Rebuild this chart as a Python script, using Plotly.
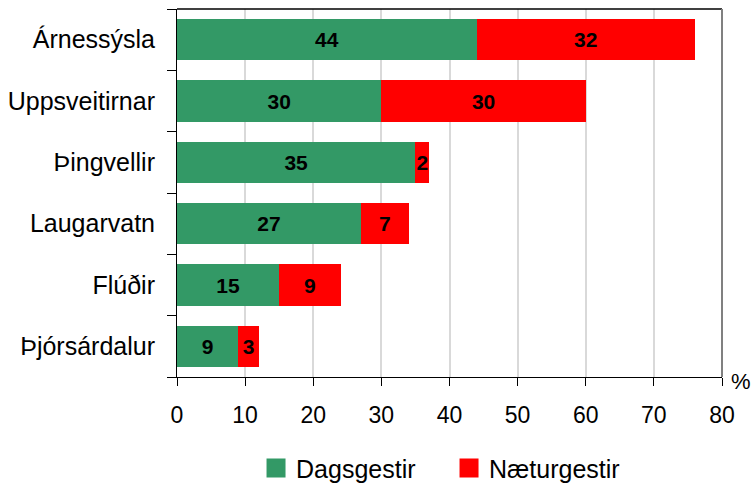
import plotly.graph_objects as go

categories = ["Árnessýsla", "Uppsveitirnar", "Þingvellir", "Laugarvatn", "Flúðir", "Þjórsárdalur"]
dagsgestir = [44, 30, 35, 27, 15, 9]
naeturgestir = [32, 30, 2, 7, 9, 3]
x_ticks = [0, 10, 20, 30, 40, 50, 60, 70, 80]

GREEN = "#339966"
RED = "#FF0000"
FONT = "Liberation Sans, Arial, sans-serif"

fig = go.Figure()
for vals, nm, col in [(dagsgestir, "Dagsgestir", GREEN), (naeturgestir, "Næturgestir", RED)]:
    fig.add_trace(go.Bar(
        y=categories, x=vals, orientation="h", name=nm,
        marker=dict(color=col, line=dict(width=0)),
        text=[str(v) for v in vals], textposition="inside",
        insidetextanchor="middle",
        textfont=dict(family=FONT, size=21, color="black", weight="bold"),
        showlegend=False, hoverinfo="x+name",
    ))
# legend entries
for nm, col in [("Dagsgestir", GREEN), ("Næturgestir", RED)]:
    fig.add_trace(go.Scatter(
        x=[None], y=[None], mode="markers", name=nm,
        marker=dict(symbol="square", size=16, color=col, line=dict(color=col, width=3)),
        showlegend=True,
    ))

# overlay axis for category-boundary ticks
fig.add_trace(go.Scatter(x=[None], y=[None], yaxis="y2", showlegend=False, hoverinfo="skip"))

n = len(categories)
fig.update_layout(
    width=753, height=487,
    margin=dict(l=177, r=31, t=9, b=110, autoexpand=False),
    paper_bgcolor="white", plot_bgcolor="white",
    barmode="stack", bargap=0.33,
    font=dict(family=FONT, size=23, color="black"),
    uniformtext=dict(minsize=21, mode="show"),
    xaxis=dict(
        range=[0, 80], tickvals=x_ticks, ticks="outside", ticklen=8,
        tickcolor="black", tickwidth=1, showline=True, linecolor="black",
        linewidth=1, showgrid=True, gridcolor="#d9d9d9", gridwidth=1.5,
        zeroline=False, tickfont=dict(size=23, family=FONT, color="black"),
        ticklabelstandoff=9, fixedrange=True,
    ),
    yaxis=dict(
        categoryorder="array", categoryarray=categories[::-1],
        range=[-0.5, n - 0.5],
        showline=True, linecolor="black", linewidth=1, ticks="",
        tickfont=dict(size=25, family=FONT, color="black"),
        ticklabelstandoff=16, showgrid=False, fixedrange=True,
    ),
    yaxis2=dict(
        overlaying="y", side="left", range=[-0.5, n - 0.5],
        tickvals=[i - 0.5 for i in range(n + 1)], ticks="outside", ticklen=9,
        tickcolor="black", tickwidth=1, showticklabels=False, showgrid=False,
        zeroline=False, showline=False, fixedrange=True,
    ),
    legend=dict(
        orientation="h", x=0.145, xanchor="left", y=-0.248, yanchor="middle",
        font=dict(size=25, family=FONT, color="black"), itemwidth=30,
        traceorder="normal", entrywidth=148,
    ),
    shapes=[
        dict(type="line", xref="paper", yref="paper", x0=0, x1=1, y0=1, y1=1,
             line=dict(color="black", width=1.5)),
        dict(type="line", xref="paper", yref="paper", x0=1, x1=1, y0=0, y1=1,
             line=dict(color="#808080", width=2)),
    ],
    annotations=[
        dict(text="%", xref="paper", yref="paper", x=1, y=0, xanchor="center",
             yanchor="middle", xshift=19, yshift=-4, showarrow=False,
             font=dict(size=22, family=FONT, color="black")),
    ],
)

fig.write_html("out.html", config={"displayModeBar": False},
               post_script="document.body.style.margin='0px';")
